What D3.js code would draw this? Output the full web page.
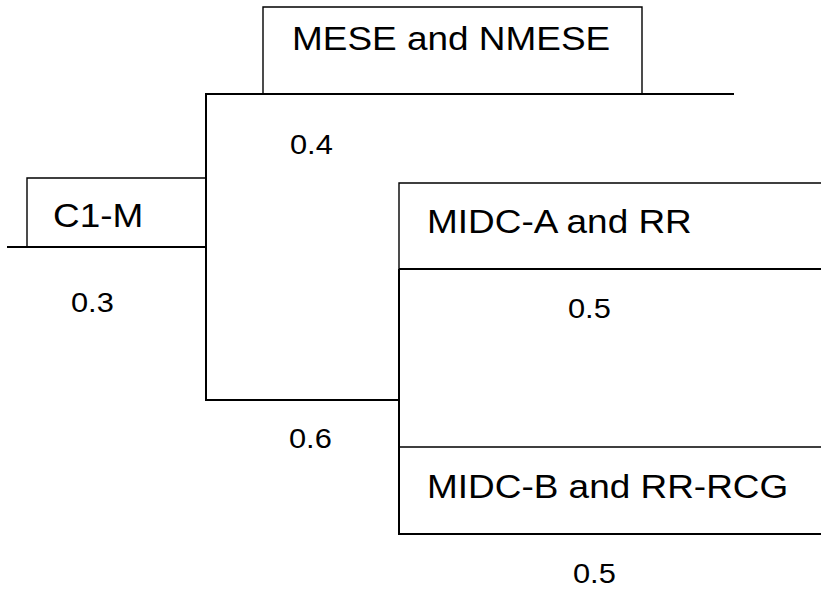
<!DOCTYPE html>
<html><head><meta charset="utf-8">
<script src="https://cdn.jsdelivr.net/npm/d3@7"></script>
<style>html,body{margin:0;padding:0;background:#fff;}svg{display:block;}</style>
</head><body>
<svg id="chart" width="821" height="590"></svg>
<script>
// Tree nodes (label boxes) and branch probabilities
const nodeLabels = ["C1-M", "MESE and NMESE", "MIDC-A and RR", "MIDC-B and RR-RCG"];
const probLabels = ["0.3", "0.4", "0.6", "0.5", "0.5"];

// grid positions (abstract units)
const colEdges = [0, 1, 2, 3, 4, 5, 6, 7];
const rowEdges = [0, 1, 2, 3, 4, 5, 6, 7, 8];

const svg = d3.select("#chart");
const X = d3.scaleOrdinal().domain(colEdges).range([7, 27, 206, 263, 399, 642, 734, 821]);
const Y = d3.scaleOrdinal().domain(rowEdges).range([7, 94, 178, 183, 247, 269, 400, 447, 534]);

const line = d3.line().x(d => X(d[0])).y(d => Y(d[1]));
const g = svg.append("g").attr("fill", "none").attr("stroke", "#000");

// branch lines (thicker)
const branches = [
  [[0,4],[2,4]],
  [[2,4],[2,1],[6,1]],
  [[2,4],[2,6],[4,6]],
  [[4,5],[4,8],[7,8]],
  [[4,5],[7,5]]
];
g.selectAll("path.branch").data(branches).join("path")
  .attr("class", "branch").attr("d", line).attr("stroke-width", 2);

// label boxes (left + top edges)
const boxes = [
  [[1,4],[1,2],[2,2]],
  [[3,1],[3,0],[5,0],[5,1]],
  [[4,5],[4,3],[7,3]],
  [[4,8],[4,7],[7,7]]
];
g.selectAll("path.box").data(boxes).join("path")
  .attr("class", "box").attr("d", line).attr("stroke-width", 1.4);

const labelPos = [[53, 227], [292, 50], [427, 233], [427, 498]];
svg.selectAll("text.node").data(nodeLabels).join("text")
  .attr("class", "node")
  .attr("transform", (d, i) => `translate(${labelPos[i][0]},${labelPos[i][1]}) scale(1.12,1)`)
  .attr("font-family", "Liberation Sans, Arial, sans-serif")
  .attr("font-size", 33).attr("fill", "#000")
  .text(d => d);

const probPos = [[71, 312], [290, 154], [289, 448], [568, 318], [573, 583]];
svg.selectAll("text.prob").data(probLabels).join("text")
  .attr("class", "prob")
  .attr("transform", (d, i) => `translate(${probPos[i][0]},${probPos[i][1]}) scale(1.1,1)`)
  .attr("font-family", "Liberation Sans, Arial, sans-serif")
  .attr("font-size", 28).attr("fill", "#000")
  .text(d => d);
</script>
</body></html>
